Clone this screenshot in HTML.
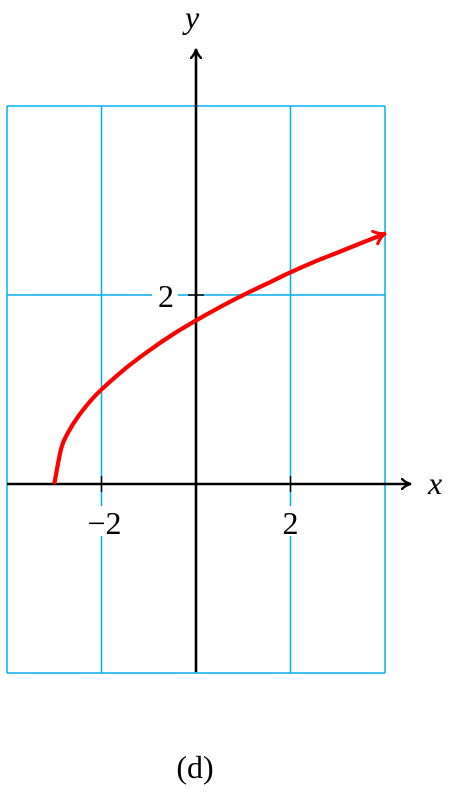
<!DOCTYPE html>
<html><head><meta charset="utf-8"><style>
html,body{margin:0;padding:0;background:#fff;width:455px;height:796px;overflow:hidden}
text{font-family:"Liberation Serif",serif;}
</style></head><body>
<svg id="chart" width="455" height="796" viewBox="0 0 455 796" xmlns="http://www.w3.org/2000/svg">
<defs>
<marker id="ah" markerWidth="12" markerHeight="12" refX="9" refY="6" orient="auto" markerUnits="userSpaceOnUse">
<path d="M1,1 Q5,5 10,6 Q5,7 1,11" fill="none" stroke="#000" stroke-width="2.4" stroke-linecap="round"/>
</marker>
<marker id="ahr" markerWidth="16" markerHeight="16" refX="12" refY="8" orient="auto" markerUnits="userSpaceOnUse">
<path d="M1,1 Q7,7 13,8 Q7,9 1,15" fill="none" stroke="#f00" stroke-width="3" stroke-linecap="round"/>
</marker>
</defs>
<g id="grid"></g>
<g id="axes"></g>
<g id="series"></g>
<g id="labels"></g>
<text x="195" y="778" font-size="32" text-anchor="middle">(d)</text>
</svg>
<script>
const xTicks = [-4, -2, 0, 2, 4];
const yTicks = [-4, -2, 0, 2, 4];
const xTickLabels = [-2, 2];
const yTickLabels = [2];
const curveX = [-3, -2.85, -2.7, -2.5, -2.25, -2, -1.5, -1, -0.5, 0, 0.5, 1, 1.5, 2, 2.5, 3, 3.5, 4];
const curveY = [0, 0.38, 0.55, 0.71, 0.87, 1, 1.22, 1.41, 1.58, 1.73, 1.87, 2, 2.12, 2.24, 2.35, 2.45, 2.55, 2.65];

const NS = "http://www.w3.org/2000/svg";
const sx = v => 196 + v * 47.25;
const sy = v => 484 - v * 94.5;
function mk(tag, attrs, parent) {
  const e = document.createElementNS(NS, tag);
  for (const k in attrs) e.setAttribute(k, attrs[k]);
  parent.appendChild(e);
  return e;
}
const grid = document.getElementById('grid');
xTicks.forEach(v => {
  const l = mk('line', {x1: sx(v), x2: sx(v), y1: sy(4), y2: sy(-2), stroke: '#00aeef', 'stroke-width': 1.5}, grid);
  
  
});
yTicks.forEach(v => {
  if (v < -2) return;
  const l = mk('line', {x1: sx(-4), x2: sx(4), y1: sy(v), y2: sy(v), stroke: '#00aeef', 'stroke-width': 1.5}, grid);
  
  
});
const axes = document.getElementById('axes');
const xa = mk('line', {x1: 7, x2: 410, y1: sy(0), y2: sy(0), stroke: '#000', 'stroke-width': 2.6, 'marker-end': 'url(#ah)'}, axes);


const ya = mk('line', {x1: sx(0), x2: sx(0), y1: 672, y2: 50, stroke: '#000', 'stroke-width': 2.6, 'marker-end': 'url(#ah)'}, axes);


xTickLabels.forEach(v => {
  const t = mk('line', {x1: sx(v), x2: sx(v), y1: sy(0) - 8, y2: sy(0) + 8, stroke: '#000', 'stroke-width': 1.5}, axes);
  
  
});
yTickLabels.forEach(v => {
  const t = mk('line', {x1: sx(0) - 8, x2: sx(0) + 8, y1: sy(v), y2: sy(v), stroke: '#000', 'stroke-width': 1.5}, axes);
  
  
});
const series = document.getElementById('series');
const pts = curveX.map((x, i) => [sx(x), sy(curveY[i])]);
let d = 'M' + pts[0][0].toFixed(1) + ',' + pts[0][1].toFixed(1);
for (let i = 0; i < pts.length - 1; i++) {
  const p0 = pts[Math.max(0, i - 1)], p1 = pts[i], p2 = pts[i + 1], p3 = pts[Math.min(pts.length - 1, i + 2)];
  const c1 = [p1[0] + (p2[0] - p0[0]) / 6, p1[1] + (p2[1] - p0[1]) / 6];
  const c2 = [p2[0] - (p3[0] - p1[0]) / 6, p2[1] - (p3[1] - p1[1]) / 6];
  d += ' C' + c1[0].toFixed(1) + ',' + c1[1].toFixed(1) + ' ' + c2[0].toFixed(1) + ',' + c2[1].toFixed(1) + ' ' + p2[0].toFixed(1) + ',' + p2[1].toFixed(1);
}
const p = mk('path', {d: d, fill: 'none', stroke: '#f00', 'stroke-width': 4.2, 'stroke-linejoin': 'round', 'marker-end': 'url(#ahr)'}, series);


const labels = document.getElementById('labels');
xTickLabels.forEach(v => {
  const txt = (v < 0 ? '\u2212' : '') + Math.abs(v);
  const w = v < 0 ? 54 : 22;
  const r = mk('rect', {x: sx(v) - (v < 0 ? 32 : 11), y: 506, width: w, height: 30, fill: '#fff'}, labels);
  
  
  const t = mk('text', {x: sx(v) + (v < 0 ? 3 : 0), y: 534, 'font-size': 32, 'text-anchor': 'middle'}, labels);
  t.textContent = txt;
  
  
});
yTickLabels.forEach(v => {
  const r = mk('rect', {x: 152, y: sy(v) - 16, width: 26, height: 30, fill: '#fff'}, labels);
  
  
  const t = mk('text', {x: 166, y: sy(v) + 12, 'font-size': 32, 'text-anchor': 'middle'}, labels);
  t.textContent = String(v);
  
  
});
const xt = mk('text', {x: 428, y: 494, 'font-size': 32, 'font-style': 'italic'}, labels);
xt.textContent = 'x';


const yt = mk('text', {x: 185, y: 28, 'font-size': 32, 'font-style': 'italic'}, labels);
yt.textContent = 'y';


</script>
</body></html>
